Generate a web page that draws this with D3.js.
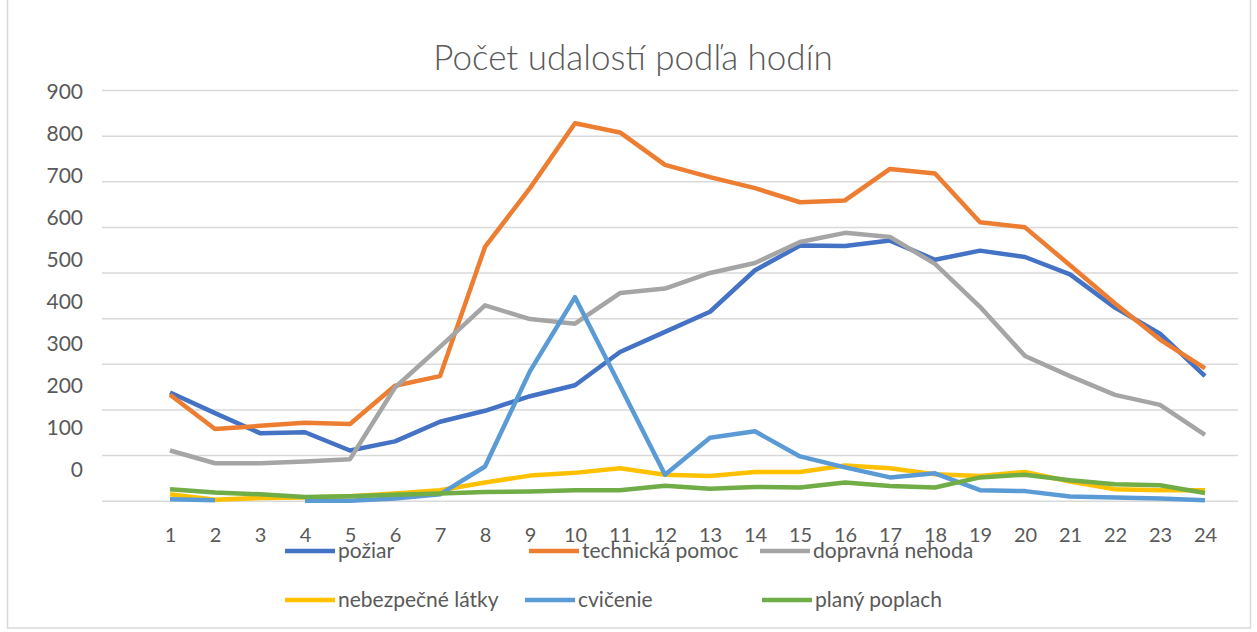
<!DOCTYPE html>
<html>
<head>
<meta charset="utf-8">
<script src="https://cdn.jsdelivr.net/npm/d3@7"></script>
<style>
  body { margin: 0; background: #fff; }
  svg text { font-family: Lato, "Open Sans", sans-serif; fill: #595959; }
</style>
</head>
<body>
<div id="graf"></div>
<script>
// hodiny a hodnoty radov (odčítané z obrázka)
const hodiny = d3.range(1, 25);
const poziar = [237, 192, 148, 150, 110, 130, 173, 197, 229, 253, 326, 370, 414, 505, 559, 558, 570, 528, 548, 534, 496, 423, 366, 273];
const technickaPomoc = [232, 157, 164, 171, 168, 252, 273, 556, 685, 827, 807, 736, 709, 685, 654, 658, 727, 717, 610, 599, 516, 432, 353, 290];
const dopravnaNehoda = [110, 82, 82, 86, 91, 248, 337, 428, 398, 388, 455, 465, 499, 521, 567, 587, 578, 519, 425, 317, 273, 232, 210, 144];
const nebezpecneLatky = [14, 2, 6, 7, 10, 16, 23, 40, 55, 61, 71, 57, 54, 63, 63, 77, 71, 58, 54, 63, 42, 25, 23, 23];
const cvicenie = [3, 1, null, 0, 0, 5, 14, 75, 284, 446, 252, 57, 138, 152, 97, 73, 51, 60, 23, 21, 9, 7, 5, 1];
const planyPoplach = [25, 18, 14, 8, 10, 13, 16, 19, 20, 23, 23, 33, 26, 30, 29, 40, 32, 29, 51, 57, 45, 36, 34, 17];
const yTicks = [0, 100, 200, 300, 400, 500, 600, 700, 800, 900];

const rady = [
  { nazov: "požiar", hodnoty: poziar, farba: "#4472C4" },
  { nazov: "technická pomoc", hodnoty: technickaPomoc, farba: "#ED7D31" },
  { nazov: "dopravná nehoda", hodnoty: dopravnaNehoda, farba: "#A5A5A5" },
  { nazov: "nebezpečné látky", hodnoty: nebezpecneLatky, farba: "#FFC000" },
  { nazov: "cvičenie", hodnoty: cvicenie, farba: "#5B9BD5" },
  { nazov: "planý poplach", hodnoty: planyPoplach, farba: "#70AD47" }
];

const W = 1257, H = 632;
const plocha = { left: 102, right: 1238, top: 90, bottom: 500.7 };

const svg = d3.select("#graf").append("svg").attr("width", W).attr("height", H);

// rámik grafu
svg.append("rect")
  .attr("x", 7.5).attr("y", -2).attr("width", 1243).attr("height", 630)
  .attr("fill", "none").attr("stroke", "#d9d9d9").attr("stroke-width", 1.5);

// titulok
svg.append("text")
  .attr("x", 633).attr("y", 70)
  .attr("text-anchor", "middle")
  .attr("font-size", 35)
  .attr("font-weight", 300)
  .text("Počet udalostí podľa hodín");

// škálovače
const x = d3.scalePoint().domain(hodiny).range([170, 1205]);
const y = d3.scaleLinear().domain([0, 900]).range([plocha.bottom, plocha.top]);
// popisky osi Y sú v predlohe posunuté voči mriežke
const yPopis = d3.scaleLinear().domain([0, 900]).range([470, 91.7]);

// mriežka
const mriezka = svg.append("g")
  .attr("transform", `translate(${plocha.left},0)`)
  .call(d3.axisLeft(y).tickValues(yTicks).tickSize(-(plocha.right - plocha.left)).tickFormat(""));
mriezka.select(".domain").remove();
mriezka.selectAll("line").attr("stroke", "#d9d9d9").attr("stroke-width", 1.5);

// popisky osi Y
const osY = svg.append("g")
  .attr("transform", "translate(83,0)")
  .call(d3.axisLeft(yPopis).tickValues(yTicks).tickSize(0).tickPadding(0));
osY.select(".domain").remove();
osY.selectAll("text").attr("font-size", 21).attr("fill", "#595959").style("font-family", "Lato, sans-serif");

// popisky osi X
const osX = svg.append("g")
  .attr("transform", "translate(0,535)")
  .call(d3.axisBottom(x).tickSize(0).tickPadding(0));
osX.select(".domain").remove();
osX.selectAll("text").attr("font-size", 20).attr("dy", "0.35em").attr("fill", "#595959").style("font-family", "Lato, sans-serif");

// čiary
const ciara = d3.line()
  .defined((d) => d != null)
  .x((d, i) => x(hodiny[i]))
  .y((d) => y(d));

svg.append("g").selectAll("path")
  .data(rady)
  .enter()
  .append("path")
  .attr("d", (d) => ciara(d.hodnoty))
  .attr("fill", "none")
  .attr("stroke", (d) => d.farba)
  .attr("stroke-width", 4.5)
  .attr("stroke-linejoin", "round");

// legenda
const legPoz = [
  { x: 285, y: 551 }, { x: 529, y: 551 }, { x: 760, y: 551 },
  { x: 285, y: 600 }, { x: 525, y: 600 }, { x: 762, y: 600 }
];
const leg = svg.append("g").selectAll("g")
  .data(rady)
  .enter()
  .append("g")
  .attr("transform", (d, i) => `translate(${legPoz[i].x},${legPoz[i].y})`);

leg.append("line")
  .attr("x1", 0).attr("x2", 50)
  .attr("stroke", (d) => d.farba)
  .attr("stroke-width", 4.5);

leg.append("text")
  .attr("x", 53)
  .attr("dy", "0.35em")
  .attr("font-size", 21)
  .text((d) => d.nazov);
</script>
</body>
</html>
